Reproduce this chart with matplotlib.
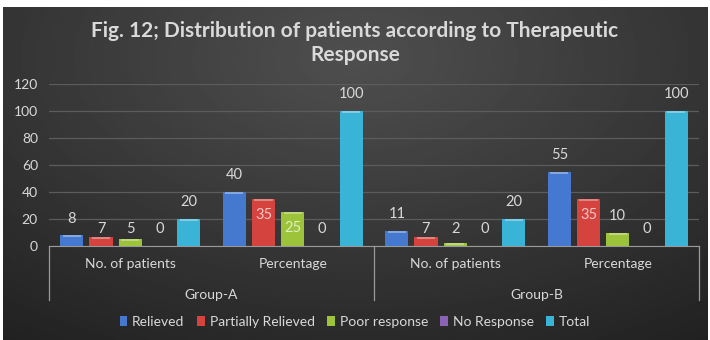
import matplotlib.pyplot as plt
import numpy as np

# data
groups = ['Group-A', 'Group-B']
categories = ['No. of patients', 'Percentage']
series = ['Relieved', 'Partially Relieved', 'Poor response', 'No Response', 'Total']
values = {
    'Relieved':           [8, 40, 11, 55],
    'Partially Relieved': [7, 35, 7, 35],
    'Poor response':      [5, 25, 2, 10],
    'No Response':        [0, 0, 0, 0],
    'Total':              [20, 100, 20, 100],
}
colors = ['#4479cf', '#d4433d', '#9cc33a', '#8a63b8', '#39b3d6']

plt.rcParams['font.family'] = ['Lato', 'DejaVu Sans']
txt = '#d9d9d9'

W, H = 710, 340
fig = plt.figure(figsize=(W / 100, H / 100), dpi=100, facecolor='white')

# dark radial background panel
bg = fig.add_axes([3 / W, 0, 705 / W, 1 - 7 / H])
bg.set_axis_off()
yy, xx = np.mgrid[0:1:200j, 0:1:400j]
r = np.sqrt(((xx - 0.5) * 1.1) ** 2 + ((yy - 0.15) * 0.9) ** 2)
bg.imshow(0.31 - 0.19 * r, cmap='gray', vmin=0, vmax=1, aspect='auto',
          extent=[0, 1, 0, 1], origin='upper')
bg.set_xlim(0, 1)
bg.set_ylim(0, 1)

x0, x1 = 49, 699
yb, yt = 246, 84
ax = fig.add_axes([x0 / W, 1 - yb / H, (x1 - x0) / W, (yb - yt) / H])
ax.patch.set_alpha(0)

ncat = len(groups) * len(categories)
centers = np.arange(ncat) + 0.5
step = 0.18
width = 0.142
for i, (name, c) in enumerate(zip(series, colors)):
    v = np.array(values[name])
    xs = centers + (i - 2) * step
    ax.bar(xs, v, width, color=c, edgecolor='none', label=name, zorder=3)
    # light cap on each bar
    cap = np.minimum(v, 1.6)
    ax.bar(xs, cap, width * 0.8, bottom=v - cap, color='white', alpha=0.35,
           edgecolor='none', zorder=4)
    for x, val in zip(xs, v):
        if name in ('Partially Relieved', 'Poor response') and val in (35, 25):
            # these labels sit inside the bar
            ax.text(x, val - 12, str(val), ha='center', va='center',
                    color='white', alpha=0.7, fontsize=10.5, zorder=5)
        else:
            ypos = val if val >= 8 else 0
            ax.annotate(str(val), (x, ypos), xytext=(0, 12), textcoords='offset points',
                        ha='center', va='center', color=txt, fontsize=10.5, zorder=5)

ax.set_xlim(0, ncat)
ax.set_ylim(0, 120)
ax.set_yticks(np.arange(0, 121, 20))
ax.tick_params(axis='y', length=0, colors=txt, labelsize=10, pad=8)
ax.set_xticks([])
for s in ['top', 'right', 'left']:
    ax.spines[s].set_visible(False)
ax.spines['bottom'].set_color('#9a9a9a')
ax.grid(axis='y', color='#5c5c5c', linewidth=0.9, zorder=0)
ax.set_axisbelow(True)

# category axis: tick labels and group dividers below the plot
for k, cat in enumerate(categories * len(groups)):
    ax.text(centers[k], -13, cat, ha='center', va='center', color=txt, fontsize=10,
            clip_on=False)
for g, name in enumerate(groups):
    ax.text(g * 2 + 1, -36, name, ha='center', va='center', color=txt, fontsize=10,
            clip_on=False)
for xv in [0, 2, 4]:
    ax.plot([xv, xv], [0, -40], color='#9a9a9a', linewidth=0.9, clip_on=False)

fig.text(0.5, 1 - 43 / H, 'Fig. 12; Distribution of patients according to Therapeutic\nResponse',
         ha='center', va='center', color=txt, fontsize=15, fontweight='bold',
         linespacing=1.3)

leg = fig.legend(loc='center', bbox_to_anchor=(0.5, 1 - 322 / H), ncol=5, frameon=False,
                 fontsize=10, handlelength=0.55, handleheight=0.75, handletextpad=0.35,
                 columnspacing=0.9, labelcolor=txt)

fig.savefig('out.png', dpi=100, facecolor=fig.get_facecolor())
